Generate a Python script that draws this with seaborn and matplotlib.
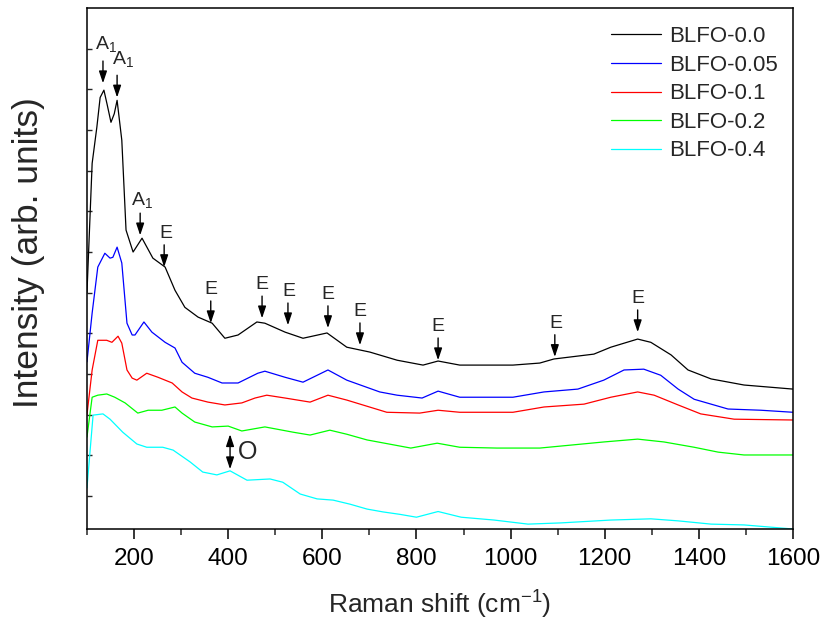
import matplotlib
matplotlib.use("Agg")
import matplotlib.pyplot as plt
from matplotlib.ticker import MultipleLocator
import seaborn as sns
import pandas as pd

#---------------------------------------------------------------------------------------------------------
# Raman spectra (Raman shift in cm-1, intensity in arb. units, stacked)
#---------------------------------------------------------------------------------------------------------
samples = ["BLFO-0.0", "BLFO-0.05", "BLFO-0.1", "BLFO-0.2", "BLFO-0.4"]
colors = ["#000000", "#0000FF", "#FF0000", "#00FF00", "#00FFFF"]

shift_00 = [100, 111, 121, 128, 136, 143, 151, 158, 164, 174, 183, 198, 217, 240, 266, 287, 308, 336,
            366, 393, 421, 461, 478, 521, 559, 610, 652, 701, 759, 814, 846, 892, 1005, 1062, 1092,
            1177, 1213, 1270, 1298, 1341, 1377, 1426, 1496, 1600]
int_00 = [6.0, 9.18, 10.07, 10.80, 10.98, 10.62, 10.19, 10.40, 10.73, 9.75, 7.54, 7.00, 7.34, 6.85, 6.63,
          6.06, 5.64, 5.40, 5.25, 4.88, 4.96, 5.28, 5.25, 5.03, 4.88, 5.01, 4.66, 4.54, 4.34, 4.22, 4.32,
          4.22, 4.22, 4.27, 4.37, 4.49, 4.66, 4.86, 4.78, 4.47, 4.10, 3.88, 3.73, 3.63]

shift_005 = [100, 111, 123, 138, 149, 155, 164, 174, 185, 196, 202, 221, 238, 266, 287, 302, 329, 357,
             387, 421, 463, 478, 521, 559, 612, 652, 722, 759, 812, 846, 892, 1005, 1071, 1143, 1198,
             1241, 1283, 1319, 1356, 1390, 1462, 1532, 1600]
int_005 = [4.3, 5.50, 6.63, 6.97, 6.85, 6.87, 7.12, 6.73, 5.25, 4.96, 4.96, 5.28, 5.03, 4.78, 4.64, 4.29,
           4.02, 3.92, 3.78, 3.78, 4.02, 4.07, 3.92, 3.80, 4.10, 3.85, 3.56, 3.48, 3.41, 3.58, 3.43, 3.43,
           3.56, 3.63, 3.85, 4.10, 4.12, 3.97, 3.63, 3.38, 3.14, 3.11, 3.06]

shift_01 = [100, 111, 123, 142, 153, 166, 174, 185, 196, 206, 227, 251, 281, 302, 323, 357, 393, 429,
            457, 482, 521, 574, 612, 652, 737, 807, 846, 892, 1005, 1071, 1156, 1213, 1270, 1305, 1356,
            1404, 1475, 1600]
int_01 = [3.0, 4.10, 4.83, 4.83, 4.78, 4.93, 4.76, 4.10, 3.90, 3.85, 4.02, 3.92, 3.78, 3.56, 3.41, 3.31,
          3.24, 3.29, 3.41, 3.48, 3.41, 3.31, 3.48, 3.36, 3.06, 3.04, 3.11, 3.06, 3.06, 3.19, 3.26, 3.43,
          3.56, 3.48, 3.24, 3.02, 2.89, 2.87]

shift_02 = [100, 111, 123, 142, 159, 181, 208, 230, 259, 287, 302, 329, 366, 400, 429, 478, 538, 574,
            616, 652, 695, 788, 844, 892, 971, 1062, 1198, 1270, 1326, 1390, 1441, 1496, 1600]
int_02 = [2.45, 3.43, 3.48, 3.51, 3.43, 3.29, 3.04, 3.11, 3.11, 3.19, 3.04, 2.82, 2.70, 2.72, 2.60, 2.70,
          2.57, 2.50, 2.62, 2.52, 2.38, 2.18, 2.30, 2.20, 2.18, 2.18, 2.33, 2.40, 2.33, 2.20, 2.08, 2.01,
          2.01]

shift_04 = [100, 113, 134, 149, 176, 206, 227, 261, 283, 319, 346, 376, 404, 440, 489, 516, 553, 589,
            623, 659, 695, 729, 765, 800, 846, 895, 965, 1037, 1107, 1213, 1298, 1356, 1426, 1496, 1600]
int_04 = [1.2, 2.99, 3.02, 2.89, 2.57, 2.28, 2.20, 2.20, 2.13, 1.84, 1.59, 1.52, 1.62, 1.39, 1.42, 1.34,
          1.05, 0.93, 0.90, 0.80, 0.68, 0.61, 0.55, 0.48, 0.62, 0.48, 0.41, 0.31, 0.34, 0.41, 0.44, 0.39,
          0.31, 0.29, 0.19]

# Phonon mode labels: arrow position (cm-1) and arrow tip (intensity)
mode_labels = ["A$_1$", "A$_1$", "A$_1$", "E", "E", "E", "E", "E", "E", "E", "E", "E"]
mode_shift = [134, 164, 213, 264, 363, 472, 527, 612, 680, 846, 1094, 1270]
mode_tip = [11.15, 10.80, 7.41, 6.63, 5.25, 5.37, 5.20, 5.13, 4.71, 4.34, 4.42, 5.03]
# label offset from the arrow tip (points)
label_dx = [2, 4, 1, 1, 0, 0, 1, 0, 0, 0, 1, 0]
label_dy = [25, 24, 22, 21, 21, 21, 21, 21, 21, 21, 21, 21]

# Oxygen related mode marked on BLFO-0.4
o_shift = 404
o_range = [1.66, 2.52]

#---------------------------------------------------------------------------------------------------------
# Plot the stacked spectra
#---------------------------------------------------------------------------------------------------------
def plotSpectra():
    sns.set_style("ticks")
    plt.rcParams["font.family"] = ["Liberation Sans", "DejaVu Sans"]
    plt.rcParams["mathtext.default"] = "regular"

    frames = []
    for name, xs, ys in zip(samples,
                            [shift_00, shift_005, shift_01, shift_02, shift_04],
                            [int_00, int_005, int_01, int_02, int_04]):
        frames.append(pd.DataFrame({"shift": xs, "intensity": ys, "sample": name}))
    df = pd.concat(frames, ignore_index=True)

    fig, ax = plt.subplots(figsize=(8.22, 6.25), dpi=100)
    fig.subplots_adjust(left=0.1058, right=0.9647, top=0.9872, bottom=0.1536)

    sns.lineplot(data=df, x="shift", y="intensity", hue="sample", hue_order=samples,
                 palette=colors, estimator=None, lw=0.9, legend=False, ax=ax)

    ax.set_xlim(100, 1600)
    ax.set_ylim(0.19, 13.0)
    ax.set_xticks(range(200, 1601, 200))
    ax.xaxis.set_minor_locator(MultipleLocator(100))
    ax.set_yticks(range(1, 13))
    ax.set_yticklabels([])

    ax.tick_params(axis="x", which="major", direction="out", length=7, width=1.1,
                   labelsize=17.5, pad=7, colors="black")
    ax.tick_params(axis="x", which="minor", direction="out", length=4.3, width=1.1)
    ax.tick_params(axis="y", which="major", direction="in", length=3.5, width=1)

    for side in ["left", "right", "top", "bottom"]:
        ax.spines[side].set_visible(True)
        ax.spines[side].set_linewidth(1.1)
        ax.spines[side].set_color("black")

    ax.set_xlabel("Raman shift (cm$^{-1}$)", fontsize=19)
    ax.set_ylabel("Intensity (arb. units)", fontsize=25.5)
    ax.xaxis.set_label_coords(0.5, -0.115)
    ax.yaxis.set_label_coords(-0.06, 0.53)

    # mode arrows and labels
    for label, xs, tip, dx, dy in zip(mode_labels, mode_shift, mode_tip, label_dx, label_dy):
        ax.annotate("", xy=(xs, tip), xytext=(0, 16), textcoords="offset points",
                    arrowprops=dict(arrowstyle="-|>,head_length=0.6,head_width=0.2",
                                    color="black", lw=1, shrinkA=0, shrinkB=0,
                                    mutation_scale=12))
        ax.annotate(label, xy=(xs, tip), xytext=(dx, dy), textcoords="offset points",
                    ha="center", va="baseline", fontsize=14)

    ax.annotate("", xy=(o_shift, o_range[0]), xytext=(o_shift, o_range[1]),
                arrowprops=dict(arrowstyle="<|-|>,head_length=0.6,head_width=0.2",
                                color="black", lw=1, shrinkA=0, shrinkB=0, mutation_scale=12))
    ax.text(o_shift + 38, sum(o_range) / 2, "O", ha="center", va="center", fontsize=18)

    ax.legend(ax.lines[:len(samples)], samples, loc="upper left",
              bbox_to_anchor=(0.742, 0.965), frameon=False, fontsize=16,
              borderpad=0, borderaxespad=0, labelspacing=0.34,
              handlelength=2.25, handletextpad=0.36)

    fig.savefig("out.png", dpi=100)

#---------------------------------------------------------------------------------------------------------
def main():
    plotSpectra()

if __name__ == "__main__":
    main()
